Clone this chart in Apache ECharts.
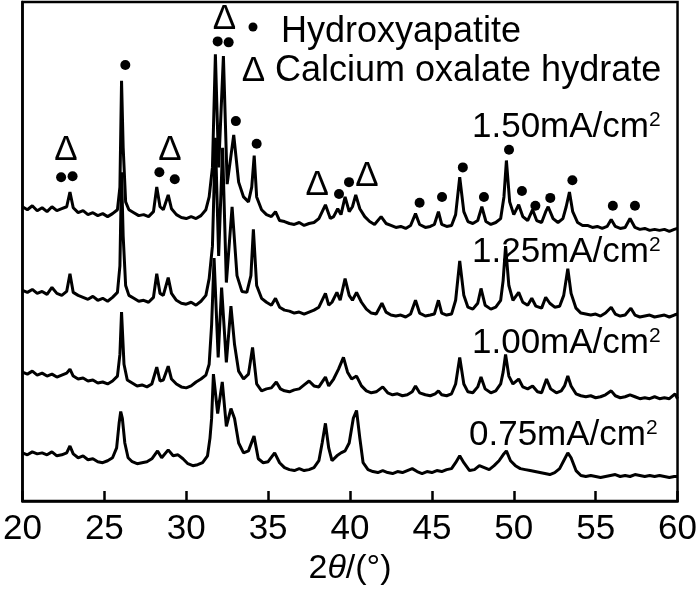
<!DOCTYPE html>
<html>
<head>
<meta charset="utf-8">
<script src="https://cdn.jsdelivr.net/npm/echarts@6/dist/echarts.min.js"></script>
<style>
  * { margin: 0; padding: 0; }
  html, body { width: 700px; height: 591px; background: #fff; }
</style>
</head>
<body>
<div id="main" style="width: 700px;height: 591px;"></div>
<script>
// x-axis ticks (2θ, degrees)
var xTicks = [20, 25, 30, 35, 40, 45, 50, 55, 60];

// intensity traces (a.u., stacked with offset), [2θ, I]
var t150 = [[20.0,299],[20.3,296],[20.6,300],[20.9,295],[21.2,298],[21.5,294],[21.8,299],[22.1,295],[22.4,297],[22.7,299],[22.9,314],[23.1,298],[23.4,293],[23.7,295],[24.0,291],[24.3,293],[24.6,290],[24.9,292],[25.2,289],[25.5,292],[25.8,296],[25.95,319],[26.05,427],[26.15,359],[26.3,304],[26.5,296],[26.8,293],[27.1,290],[27.4,291],[27.7,289],[28.0,294],[28.2,319],[28.4,299],[28.6,296],[28.9,311],[29.1,297],[29.4,291],[29.7,288],[30.0,287],[30.3,289],[30.6,287],[30.9,290],[31.2,296],[31.4,309],[31.6,339],[31.78,454],[31.98,339],[32.27,452],[32.5,322],[32.9,372],[33.2,324],[33.5,309],[33.8,304],[34.0,319],[34.15,351],[34.3,309],[34.6,296],[34.9,291],[35.2,289],[35.45,294],[35.7,285],[36.0,284],[36.3,282],[36.6,281],[36.9,283],[37.2,280],[37.5,282],[37.8,283],[38.1,287],[38.5,301],[38.8,287],[39.0,289],[39.25,297],[39.45,291],[39.7,309],[39.95,294],[40.15,299],[40.35,311],[40.6,297],[40.9,289],[41.2,284],[41.5,281],[41.9,289],[42.2,282],[42.5,280],[42.8,278],[43.1,279],[43.4,277],[43.7,280],[44.0,292],[44.25,281],[44.6,278],[44.9,279],[45.15,281],[45.4,294],[45.6,281],[45.9,279],[46.2,280],[46.45,291],[46.7,329],[46.95,294],[47.2,284],[47.5,282],[47.8,285],[48.05,299],[48.3,284],[48.6,281],[48.9,283],[49.2,287],[49.4,309],[49.55,346],[49.75,304],[50.0,291],[50.3,301],[50.55,289],[50.85,285],[51.15,296],[51.4,285],[51.7,283],[51.95,294],[52.1,299],[52.4,287],[52.7,283],[53.0,287],[53.2,299],[53.4,314],[53.6,294],[53.9,283],[54.2,280],[54.5,280],[54.8,278],[55.1,279],[55.4,277],[55.7,279],[55.95,286],[56.2,279],[56.5,277],[56.8,278],[57.1,287],[57.4,278],[57.7,276],[58.0,277],[58.3,275],[58.6,276],[58.9,275],[59.2,276],[59.5,274],[59.8,276],[60.0,277]];

var t125 = [[20.0,214],[20.3,212],[20.6,215],[20.9,211],[21.2,213],[21.5,210],[21.8,217],[22.1,211],[22.4,209],[22.7,213],[22.9,231],[23.1,212],[23.4,209],[23.7,207],[24.0,205],[24.3,208],[24.6,204],[24.9,206],[25.2,203],[25.5,207],[25.8,212],[25.95,239],[26.05,334],[26.15,269],[26.3,219],[26.5,209],[26.8,206],[27.1,203],[27.4,204],[27.7,202],[28.0,207],[28.2,231],[28.4,211],[28.6,209],[28.9,227],[29.1,211],[29.4,204],[29.7,201],[30.0,200],[30.3,202],[30.6,199],[30.9,203],[31.2,209],[31.4,226],[31.6,259],[31.78,369],[31.98,249],[32.22,359],[32.45,222],[32.8,299],[33.1,229],[33.4,213],[33.7,212],[33.95,229],[34.1,276],[34.3,219],[34.6,206],[34.9,202],[35.2,199],[35.45,206],[35.7,197],[36.0,194],[36.3,193],[36.6,191],[36.9,192],[37.2,190],[37.5,192],[37.8,194],[38.1,197],[38.5,211],[38.7,199],[38.9,202],[39.2,212],[39.4,204],[39.7,226],[39.95,209],[40.15,204],[40.4,212],[40.7,202],[41.0,195],[41.3,191],[41.6,190],[41.95,201],[42.2,192],[42.5,189],[42.8,188],[43.1,189],[43.4,187],[43.7,190],[44.0,204],[44.25,191],[44.6,188],[44.9,189],[45.15,190],[45.4,204],[45.6,191],[45.9,189],[46.2,190],[46.45,204],[46.7,244],[46.95,209],[47.2,197],[47.5,195],[47.8,201],[48.0,216],[48.25,199],[48.6,195],[48.9,197],[49.2,204],[49.35,224],[49.5,259],[49.7,219],[49.95,204],[50.3,212],[50.55,202],[50.85,199],[51.1,206],[51.35,198],[51.7,196],[51.95,207],[52.2,201],[52.5,197],[52.8,198],[53.05,209],[53.3,236],[53.5,211],[53.8,196],[54.1,191],[54.4,190],[54.7,189],[55.0,190],[55.3,188],[55.6,191],[55.95,197],[56.2,190],[56.5,188],[56.8,189],[57.15,196],[57.4,189],[57.7,187],[58.0,188],[58.3,189],[58.6,187],[58.9,188],[59.2,189],[59.5,187],[59.8,189],[60.0,190]];

var t100 = [[20.0,131],[20.3,129],[20.6,132],[20.9,128],[21.2,130],[21.5,127],[21.8,129],[22.1,126],[22.4,128],[22.7,130],[22.9,134],[23.1,127],[23.4,124],[23.7,125],[24.0,122],[24.3,123],[24.6,120],[24.9,121],[25.2,119],[25.5,122],[25.8,127],[25.95,149],[26.05,192],[26.2,139],[26.4,123],[26.7,120],[27.0,117],[27.3,118],[27.6,116],[27.9,119],[28.2,136],[28.4,122],[28.6,123],[28.9,137],[29.1,124],[29.4,119],[29.7,116],[30.0,115],[30.3,117],[30.6,121],[30.9,124],[31.2,128],[31.4,139],[31.55,179],[31.7,247],[31.95,146],[32.16,217],[32.45,141],[32.73,198],[32.95,159],[33.2,132],[33.5,124],[33.8,129],[34.05,156],[34.3,119],[34.6,112],[34.9,114],[35.2,115],[35.5,121],[35.75,114],[36.0,112],[36.3,111],[36.6,113],[36.9,114],[37.2,118],[37.5,122],[37.8,117],[38.1,116],[38.5,126],[38.7,117],[39.0,124],[39.3,134],[39.6,146],[39.85,131],[40.1,124],[40.4,127],[40.7,117],[41.0,112],[41.3,110],[41.6,111],[42.0,116],[42.3,110],[42.6,108],[42.9,109],[43.2,107],[43.5,108],[43.8,111],[44.0,117],[44.25,110],[44.6,108],[44.9,107],[45.2,109],[45.4,112],[45.6,108],[45.9,107],[46.2,109],[46.45,119],[46.7,146],[46.95,119],[47.2,111],[47.5,110],[47.8,116],[48.0,126],[48.25,114],[48.6,110],[48.9,112],[49.2,119],[49.35,131],[49.5,149],[49.7,127],[49.95,119],[50.3,124],[50.55,116],[50.85,114],[51.15,117],[51.45,111],[51.7,110],[52.0,124],[52.25,114],[52.6,110],[52.9,112],[53.1,117],[53.3,127],[53.5,117],[53.8,109],[54.1,107],[54.4,106],[54.7,107],[55.0,105],[55.3,106],[55.6,108],[55.95,112],[56.2,107],[56.5,105],[56.8,106],[57.1,108],[57.4,106],[57.7,104],[58.0,105],[58.3,104],[58.6,106],[58.9,104],[59.2,105],[59.5,104],[59.85,109],[60.0,104]];

var t075 = [[20.0,49],[20.3,47],[20.6,50],[20.9,48],[21.2,49],[21.5,47],[21.8,50],[22.1,46],[22.4,47],[22.7,49],[22.9,56],[23.1,48],[23.4,44],[23.7,46],[24.0,42],[24.3,43],[24.6,40],[24.9,39],[25.2,41],[25.5,44],[25.75,54],[25.9,79],[26.0,91],[26.1,84],[26.25,59],[26.45,44],[26.7,40],[27.0,38],[27.3,39],[27.6,40],[27.9,43],[28.25,51],[28.5,44],[28.9,52],[29.2,46],[29.5,47],[29.8,43],[30.1,38],[30.4,36],[30.7,37],[31.0,39],[31.3,46],[31.45,64],[31.55,84],[31.66,129],[31.92,89],[32.2,121],[32.45,76],[32.73,94],[32.95,84],[33.2,59],[33.5,49],[33.8,51],[34.14,66],[34.4,43],[34.7,39],[35.0,40],[35.4,49],[35.7,39],[36.0,34],[36.3,32],[36.6,31],[36.9,33],[37.2,31],[37.5,32],[37.8,34],[38.1,41],[38.3,59],[38.5,79],[38.7,54],[38.9,41],[39.2,46],[39.45,49],[39.7,51],[39.95,59],[40.2,84],[40.4,92],[40.6,64],[40.8,39],[41.1,32],[41.4,30],[41.7,29],[42.0,31],[42.3,29],[42.6,28],[42.9,30],[43.2,29],[43.5,31],[43.8,33],[44.1,30],[44.4,28],[44.7,30],[45.0,29],[45.3,31],[45.6,30],[45.9,32],[46.2,33],[46.45,39],[46.7,46],[46.95,39],[47.3,31],[47.6,32],[47.9,36],[48.2,34],[48.5,32],[48.8,36],[49.1,41],[49.35,47],[49.55,51],[49.8,41],[50.1,36],[50.4,33],[50.7,32],[51.0,31],[51.3,30],[51.6,29],[51.9,28],[52.2,27],[52.5,29],[52.8,33],[53.05,41],[53.3,49],[53.5,44],[53.8,31],[54.1,26],[54.4,25],[54.7,26],[55.0,25],[55.3,24],[55.6,25],[55.9,26],[56.2,27],[56.5,25],[56.8,26],[57.1,25],[57.4,27],[57.7,26],[58.0,25],[58.3,26],[58.6,25],[58.9,26],[59.2,25],[59.5,24],[59.8,25],[60.0,25]];

// phase marks above the 1.50 trace: [2θ, I]
var hapMarks = [[22.36,329],[23.06,330],[26.28,443],[28.36,334],[29.30,327],[31.92,467],[32.59,466],[33.03,386],[34.30,363],[39.33,312],[39.94,324],[44.25,303],[45.62,309],[46.89,339],[48.18,309],[49.71,357],[50.50,315],[51.32,300],[52.23,308],[53.58,326],[56.05,300],[57.40,300]];
var coxMarks = [[22.66,356],[29.0,356],[32.33,489],[38.0,321],[41.03,330]];

var sampleNames = ['1.50', '1.25', '1.00', '0.75'];

var FONT = '"Liberation Sans", Arial, sans-serif';

var mycharts = echarts.init(document.getElementById('main'));

function trace(data) {
  return {
    type: 'line',
    data: data,
    showSymbol: false,
    symbol: 'none',
    lineStyle: { color: '#000', width: 3 },
    z: 2
  };
}

var labelY = [127, 252, 343, 435];
var labelX = [472, 472, 472, 469];

var graphics = [
  { type: 'circle', shape: { cx: 253, cy: 27, r: 4.5 }, style: { fill: '#000' } },
  { type: 'text', style: { text: 'Hydroxyapatite', x: 281, y: 32, font: '36px ' + FONT, fill: '#000', textVerticalAlign: 'middle' } },
  { type: 'text', style: { text: 'Δ', x: 253.5, y: 71, font: '35px ' + FONT, fill: '#000', textAlign: 'center', textVerticalAlign: 'middle' } },
  { type: 'text', style: { text: 'Calcium oxalate hydrate', x: 275, y: 71, font: '36px ' + FONT, fill: '#000', textVerticalAlign: 'middle' } }
];
sampleNames.forEach(function (n, i) {
  graphics.push({
    type: 'text',
    style: {
      text: n + 'mA/cm{sup|2}',
      x: labelX[i], y: labelY[i],
      font: '35px ' + FONT,
      fill: '#000',
      textVerticalAlign: 'middle',
      rich: { sup: { fontSize: 21, fontFamily: FONT, verticalAlign: 'top', color: '#000' } }
    }
  });
});

var option = {
  animation: false,
  backgroundColor: '#fff',
  grid: {
    left: 21, right: 18, top: 2, bottom: 82,
    show: true, borderColor: '#000', borderWidth: 2.5
  },
  xAxis: {
    type: 'value',
    min: 20, max: 60, interval: 5,
    name: '2{it|θ}/(°)',
    nameLocation: 'middle',
    nameGap: 48,
    nameTextStyle: {
      color: '#000', fontSize: 34, fontFamily: FONT,
      rich: { it: { fontSize: 34, fontStyle: 'italic', fontFamily: FONT, color: '#000' } }
    },
    axisLine: { lineStyle: { color: '#000', width: 2.5 } },
    axisTick: { inside: true, length: 10, lineStyle: { color: '#000', width: 2.5 } },
    axisLabel: {
      color: '#000', fontSize: 35, fontFamily: FONT, margin: 11,
      formatter: function (v) { return xTicks.indexOf(v) >= 0 ? String(v) : ''; }
    },
    splitLine: { show: false }
  },
  yAxis: {
    type: 'value',
    min: 0, max: 507,
    axisLine: { show: true, lineStyle: { color: '#000', width: 2.5 } },
    axisTick: { show: false },
    axisLabel: { show: false },
    splitLine: { show: false }
  },
  series: [
    trace(t150), trace(t125), trace(t100), trace(t075),
    {
      type: 'scatter',
      data: hapMarks,
      symbol: 'circle',
      symbolSize: 10,
      itemStyle: { color: '#000', opacity: 1 },
      z: 3
    },
    {
      type: 'scatter',
      data: coxMarks,
      symbolSize: 1,
      itemStyle: { color: 'rgba(0,0,0,0)', opacity: 1 },
      label: {
        show: true, position: 'inside', formatter: 'Δ',
        fontSize: 35, fontFamily: FONT, color: '#000'
      },
      z: 3
    }
  ],
  graphic: graphics
};
mycharts.setOption(option);
</script>
</body>
</html>
